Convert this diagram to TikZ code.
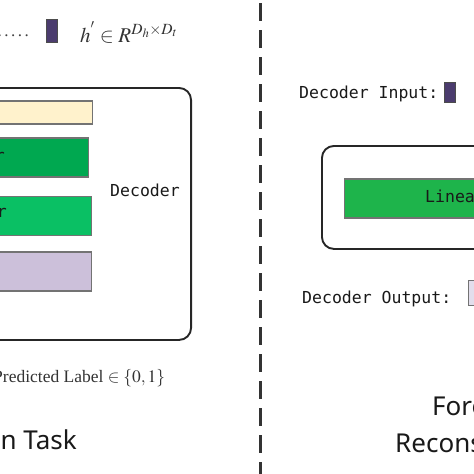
\documentclass[tikz,border=0pt]{standalone}
\usepackage{mathptmx}
\usepackage{fontspec}
\setmainfont{Liberation Serif}
\setsansfont{Noto Sans}
\newfontfamily\codefont{DejaVu Sans Mono}

\definecolor{cream}{RGB}{255,242,204}
\definecolor{greenA}{RGB}{0,168,80}
\definecolor{greenB}{RGB}{10,192,100}
\definecolor{greenC}{RGB}{30,180,75}
\definecolor{lavender}{RGB}{204,192,218}
\definecolor{darkpurple}{RGB}{75,60,110}
\definecolor{outgray}{RGB}{226,222,236}

\begin{document}
\begin{tikzpicture}[x=1pt,y=-1pt]
\tikzstyle{every node}+=[inner sep=0pt]
\tikzstyle{panel}=[draw=black!85, line width=1.9pt, rounded corners=12pt]
\tikzstyle{bar}=[draw=black!55, line width=1.2pt, minimum width=150pt]
\tikzstyle{code}=[font=\codefont\fontsize{16.5}{18}\selectfont, text=black!90]
\tikzstyle{title}=[font=\sffamily\fontsize{26}{30}\selectfont, text=black!90]
\useasboundingbox (0,0) rectangle (474,474);
% left: decoder of the classification task
\node [anchor=base east, text=black!75, font=\fontsize{17}{20}\selectfont] (dots) at (29,36.5) {.\hspace{2.5pt}.\hspace{2.5pt}.\hspace{2.5pt}.\hspace{2.5pt}.};
\node [anchor=north west, fill=darkpurple, draw=black!70, line width=0.8pt, minimum width=11pt, minimum height=23pt] (hvec) at (46,19) {};
\node [anchor=base west, text=black!80, font=\fontsize{21}{24}\selectfont] (hdim) at (80,42) {$h^{'}\in R^{D_h\times D_t}$};
\node [panel, anchor=north east, minimum width=232pt, minimum height=252pt] (dec) at (192,87) {};
\node [bar, fill=cream, anchor=east, minimum height=23pt] (bar1) at (93,112.5) {};
\node [bar, fill=greenA, anchor=east, minimum height=39pt] (bar2) at (89,157.5) {};
\node [code, anchor=east] (bar2txt) at (5,157) {Transformer Layer};
\node [bar, fill=greenB, anchor=east, minimum height=39pt] (bar3) at (92,216) {};
\node [code, anchor=east] (bar3txt) at (7,213) {Transformer Layer};
\node [bar, fill=lavender, anchor=east, minimum height=39pt] (bar4) at (92,271.5) {};
\node [code] (dectxt) at (145,190) {Decoder};
\node [anchor=base west, text=black!80, font=\fontsize{17.5}{20}\selectfont] (label) at (-7,382) {Predicted Label $\in\{0,1\}$};
\node [title, anchor=base east] (task1) at (77,449) {Classification Task};
% separator
\coordinate (septop) at (260,3);
\coordinate (sepbot) at (260,480);
\draw [black!80, line width=3pt, dash pattern=on 18pt off 9pt] (septop) -- (sepbot);
% right: decoder of the forecasting task
\node [code, anchor=base west] (intxt) at (299,98) {Decoder Input:};
\node [anchor=north west, fill=darkpurple, draw=black!70, line width=0.8pt, minimum width=11pt, minimum height=20pt] (invec) at (444,82) {};
\node [panel, anchor=north west, minimum width=240pt, minimum height=103pt] (dec2) at (321,145) {};
\node [bar, fill=greenC, anchor=west, minimum width=200pt, minimum height=39pt] (lin) at (344,198.5) {};
\node [code, anchor=west] (lintxt) at (425,198) {Linear Layer};
\node [code, anchor=base west] (outtxt) at (302,303) {Decoder Output:};
\node [anchor=north west, fill=outgray, draw=black!55, line width=1pt, minimum width=24pt, minimum height=25pt] (outvec) at (468,280) {};
\node [title, anchor=base west] (task2a) at (432,415) {Forecasting};
\node [title, anchor=base west] (task2b) at (395,452) {Reconstruction Task};
\end{tikzpicture}
\end{document}
